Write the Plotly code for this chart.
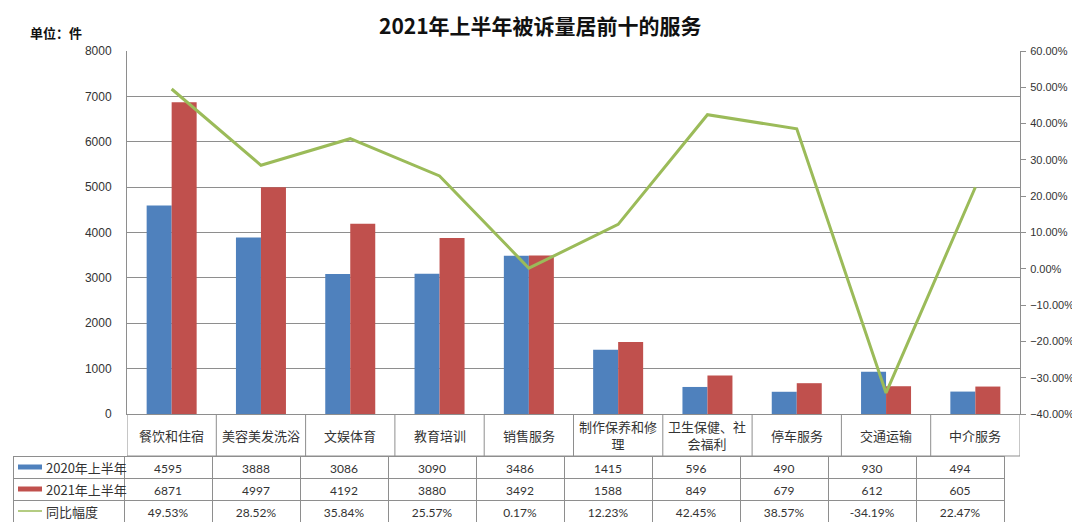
import plotly.graph_objects as go

# page body has an 8px margin, so the figure is sized to fit the window
W, H = 1072, 514
OFF = 8

categories = ["餐饮和住宿", "美容美发洗浴", "文娱体育", "教育培训", "销售服务",
              "制作保养和修<br>理", "卫生保健、社<br>会福利", "停车服务", "交通运输", "中介服务"]
h1_2020 = [4595, 3888, 3086, 3090, 3486, 1415, 596, 490, 930, 494]
h1_2021 = [6871, 4997, 4192, 3880, 3492, 1588, 849, 679, 612, 605]
yoy = [0.4953, 0.2852, 0.3584, 0.2557, 0.0017, 0.1223, 0.4245, 0.3857, -0.3419, 0.2247]
series_names = ["2020年上半年", "2021年上半年", "同比幅度"]

BLUE, RED, GREEN = "#4F81BD", "#C0504D", "#9BBB59"
GRID = "#8E8E8E"
TXT = "#333333"
CJK = "Noto Sans CJK SC"
TICKFONT = "Liberation Sans"

# screen pixel -> paper coords
def px(x):
    return (x - OFF) / W

def py(y):
    return 1 - (y - OFF) / H

plot_l, plot_r, plot_t, plot_b = 127, 1020, 51, 414
tab_l, tab_c, tab_r = 13, 124, 1004
strip_b = 456
rows = [456, 478, 500, 522]

fig = go.Figure()
fig.add_trace(go.Bar(x=list(range(10)), y=h1_2020, name=series_names[0],
                     marker=dict(color=BLUE, line=dict(width=0))))
fig.add_trace(go.Bar(x=list(range(10)), y=h1_2021, name=series_names[1],
                     marker=dict(color=RED, line=dict(width=0))))
fig.add_trace(go.Scatter(x=list(range(10)), y=yoy, name=series_names[2], yaxis="y2",
                         mode="lines", line=dict(color=GREEN, width=3)))

# data table under the chart
pct = [f"{v*100:.2f}%" for v in yoy]
cols = [["", "", ""]] + [[str(a), str(b), c] for a, b, c in zip(h1_2020, h1_2021, pct)]
fig.add_trace(go.Table(
    domain=dict(x=[px(tab_l), px(tab_r)], y=[max(py(rows[-1]), 0), py(rows[0])]),
    columnwidth=[tab_c - tab_l] + [(tab_r - tab_c) / 10] * 10,
    header=dict(values=[c[0] for c in cols], height=22, fill_color="white",
                line=dict(color=GRID, width=1), align="center",
                font=dict(family="Lato, " + CJK, size=12, color=TXT)),
    cells=dict(values=[c[1:] for c in cols], height=22, fill_color="white",
               line=dict(color=GRID, width=1), align="center",
               font=dict(family="Lato, " + CJK, size=12, color=TXT)),
))

shapes = []
annotations = []

# category strip below plot
for i, c in enumerate(categories):
    annotations.append(dict(x=i, xref="x", y=py((plot_b + strip_b) / 2), yref="paper",
                            xanchor="center", yanchor="middle",
                            text=c, showarrow=False, font=dict(family=CJK, size=13, color=TXT)))
for k in range(11):
    shapes.append(dict(type="line", xref="x", yref="paper", x0=k - 0.5, x1=k - 0.5,
                       y0=py(plot_b), y1=py(strip_b), line=dict(color=GRID, width=1)))
shapes.append(dict(type="line", xref="paper", yref="paper", x0=px(plot_l), x1=px(plot_r),
                   y0=py(strip_b), y1=py(strip_b), line=dict(color=GRID, width=1)))

# row labels with legend swatches
for r in range(3):
    yc = py((rows[r] + rows[r + 1]) / 2)
    annotations.append(dict(x=px(44), xref="paper", y=yc, yref="paper", text=series_names[r],
                            xanchor="left", yanchor="middle", showarrow=False,
                            font=dict(family=CJK, size=13, color=TXT)))
    if r < 2:
        shapes.append(dict(type="rect", xref="paper", yref="paper", x0=px(18), x1=px(42),
                           y0=yc - 2.5 / H, y1=yc + 2.5 / H, fillcolor=[BLUE, RED][r],
                           line=dict(width=0)))
    else:
        shapes.append(dict(type="line", xref="paper", yref="paper", x0=px(18), x1=px(42),
                           y0=yc, y1=yc, line=dict(color=GREEN, width=1.5)))

annotations.append(dict(x=px(540), xref="paper", y=py(25), yref="paper",
                        xanchor="center", yanchor="middle", borderpad=0, borderwidth=0,
                        text="<b>2021年上半年被诉量居前十的服务</b>", showarrow=False,
                        font=dict(family=CJK, size=21, color="#111111")))
annotations.append(dict(x=px(28), xref="paper", y=py(32), yref="paper",
                        xanchor="left", yanchor="middle",
                        text="<b>单位：件</b>", showarrow=False,
                        font=dict(family=CJK, size=13, color="#111111")))

fig.update_layout(
    width=W, height=H, margin=dict(l=0, r=0, t=0, b=0, autoexpand=False),
    paper_bgcolor="white", plot_bgcolor="white",
    showlegend=False, barmode="group", bargap=0.44, bargroupgap=0,
    xaxis=dict(domain=[px(plot_l), px(plot_r)], range=[-0.5, 9.5], showticklabels=False,
               showgrid=False, zeroline=False, showline=True, linecolor=GRID, ticks="",
               automargin=False),
    yaxis=dict(domain=[py(plot_b), py(plot_t)], range=[0, 8000], dtick=1000,
               showgrid=True, gridcolor=GRID, gridwidth=1, zeroline=False,
               showline=True, linecolor=GRID, ticks="", ticklabelstandoff=12,
               automargin=False,
               tickfont=dict(family=TICKFONT, size=12, color=TXT)),
    yaxis2=dict(overlaying="y", side="right", range=[-0.4, 0.6], dtick=0.1, tickformat=".2%",
                showgrid=False, zeroline=False, showline=True, linecolor=GRID,
                ticks="outside", ticklen=5, tickcolor=GRID, automargin=False,
                ticklabelstandoff=2,
                tickfont=dict(family=TICKFONT, size=11, color=TXT)),
    shapes=shapes, annotations=annotations,
)

fig.write_html("out.html")
